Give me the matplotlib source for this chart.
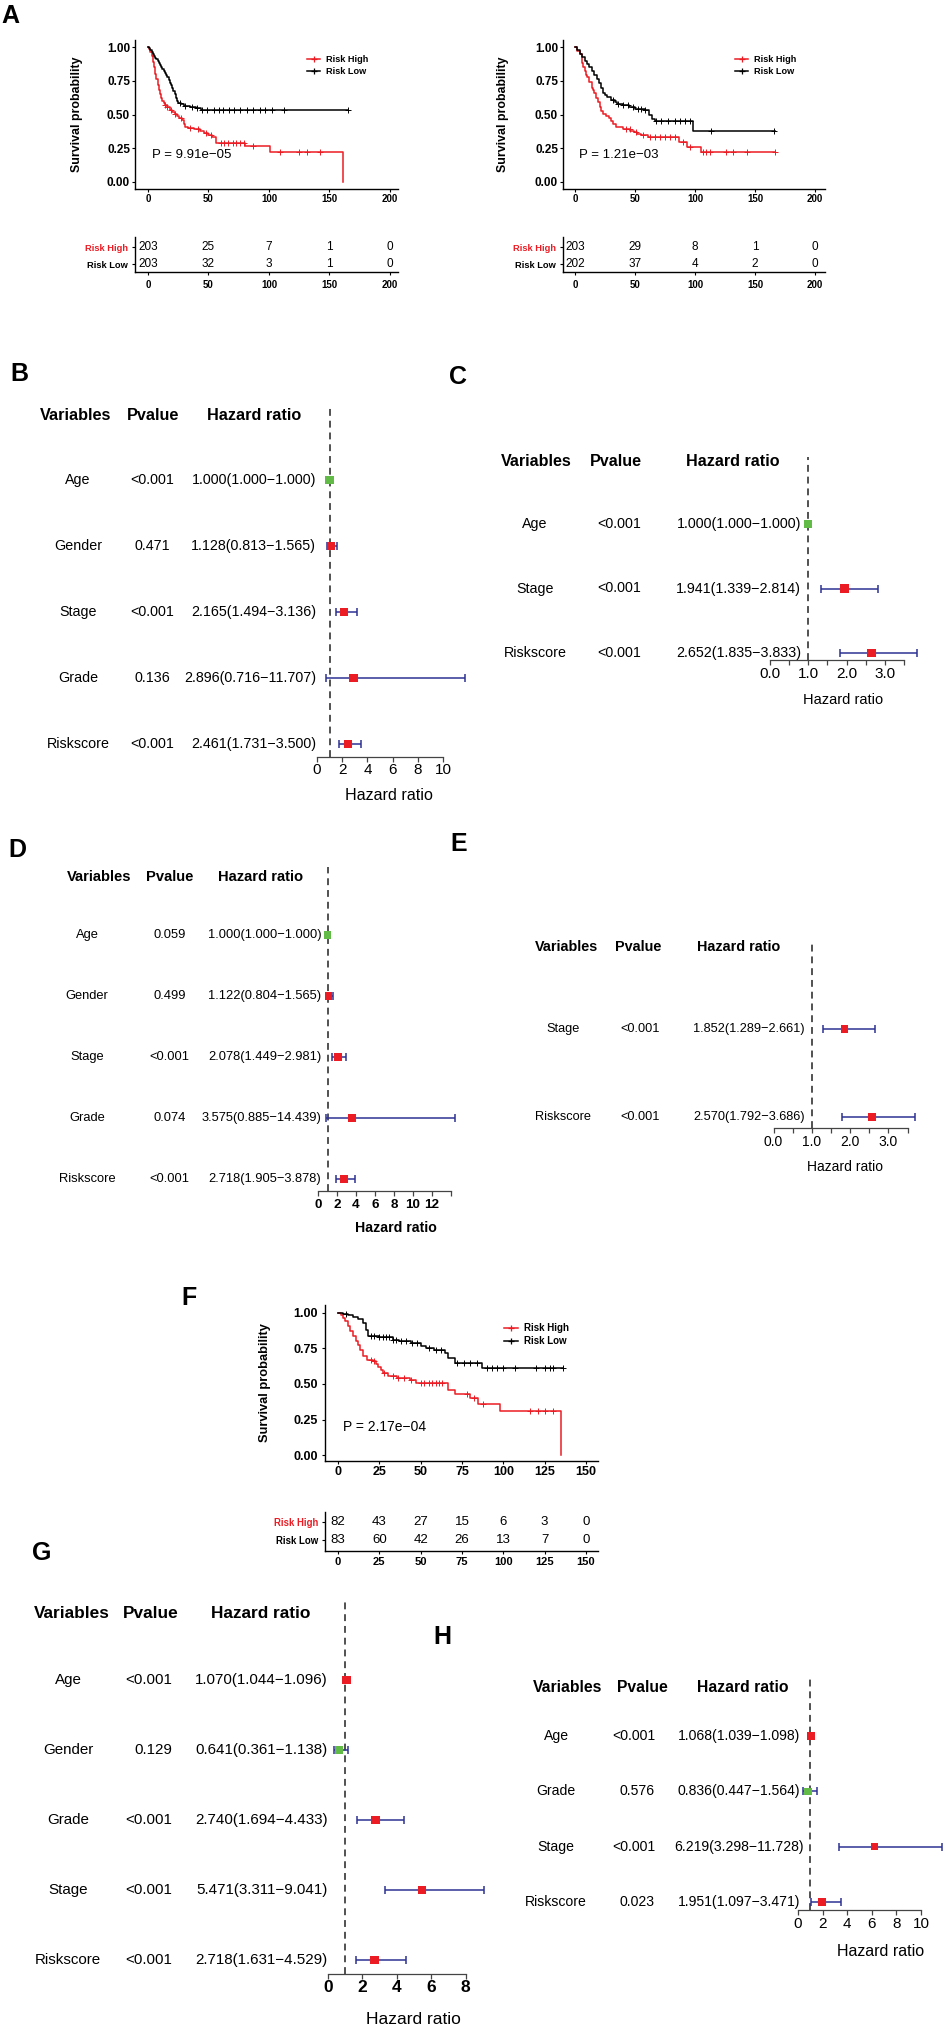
import numpy as np
import matplotlib
matplotlib.use("Agg")
import matplotlib.pyplot as plt
from matplotlib.lines import Line2D
import matplotlib.transforms as mtransforms

plt.rcParams['font.family'] = ['Liberation Sans', 'DejaVu Sans']

# ---------------- DATA ----------------
# Panel A (left) Kaplan-Meier
A1_high_t = [0, 1, 2, 3, 4, 5, 6, 7, 8, 9, 10, 11, 12, 13, 14, 16, 18, 20, 22, 24, 26, 28, 30, 31, 33, 38, 43, 46, 50, 53, 56, 80, 101, 161]
A1_high_s = [1.0, 0.985, 0.96, 0.93, 0.89, 0.85, 0.80, 0.76, 0.72, 0.685, 0.655, 0.625, 0.60, 0.585, 0.57, 0.555, 0.535, 0.52, 0.505, 0.49, 0.475, 0.46, 0.43, 0.41, 0.40, 0.39, 0.38, 0.36, 0.35, 0.33, 0.29, 0.267, 0.222, 0.0]
A1_high_c = [14, 16, 19, 22, 27, 35, 41, 48, 52, 60, 63, 66, 70, 73, 76, 79, 87, 109, 125, 131, 142]
A1_low_t = [0, 1, 2, 3, 4, 5, 6, 7, 8, 9, 10, 11, 12, 13, 14, 15, 16, 17, 18, 19, 20, 21, 22, 23, 24, 25, 27, 30, 35, 40, 44, 165]
A1_low_s = [1.0, 0.99, 0.975, 0.96, 0.95, 0.935, 0.92, 0.91, 0.895, 0.88, 0.865, 0.85, 0.835, 0.82, 0.81, 0.79, 0.775, 0.755, 0.735, 0.715, 0.695, 0.675, 0.655, 0.625, 0.60, 0.585, 0.575, 0.565, 0.555, 0.545, 0.535, 0.535]
A1_low_c = [26.7, 30.8, 36.3, 40.4, 44.6, 48.7, 54.2, 58.3, 62.4, 66.6, 70.7, 76.2, 81.7, 87.2, 92.7, 96.8, 102.3, 112, 165]
A1_pval = "P = 9.91e\u221205"
A1_tab_t = [0, 50, 100, 150, 200]
A1_tab_high = [203, 25, 7, 1, 0]
A1_tab_low = [203, 32, 3, 1, 0]

# Panel A (right)
A2_high_t = [0, 2, 4, 6, 7, 8, 9, 10, 12, 14, 15, 16, 17.8, 19, 20.6, 22, 23.5, 26, 28, 30, 32, 34.5, 40, 46, 49, 52, 55, 61, 87, 93, 105, 167]
A2_high_s = [1.0, 0.97, 0.945, 0.88, 0.85, 0.82, 0.79, 0.775, 0.74, 0.70, 0.68, 0.66, 0.62, 0.59, 0.555, 0.525, 0.506, 0.49, 0.475, 0.455, 0.432, 0.407, 0.395, 0.38, 0.37, 0.355, 0.346, 0.333, 0.296, 0.259, 0.222, 0.222]
A2_high_c = [42.8, 45.6, 51.2, 56.7, 62.3, 66.4, 70.6, 74.8, 79, 83.1, 90.1, 95.6, 106.8, 109.5, 112.3, 126.2, 131.8, 142.9, 166.5]
A2_low_t = [0, 2, 4, 6, 8, 10, 12, 14, 16, 18, 20, 22, 23.5, 25, 27, 30, 33, 35, 40, 45, 50, 58, 62, 64, 66.5, 98, 167]
A2_low_s = [1.0, 0.975, 0.95, 0.925, 0.90, 0.875, 0.85, 0.82, 0.79, 0.76, 0.73, 0.70, 0.66, 0.645, 0.63, 0.605, 0.59, 0.58, 0.568, 0.555, 0.543, 0.536, 0.494, 0.47, 0.452, 0.375, 0.375]
A2_low_c = [31.7, 35.9, 40, 44.2, 48.4, 52.5, 55.3, 58.1, 67.8, 72, 77.6, 83.1, 87.3, 91.4, 95.6, 112.9, 165.7]
A2_pval = "P = 1.21e\u221203"
A2_tab_t = [0, 50, 100, 150, 200]
A2_tab_high = [203, 29, 8, 1, 0]
A2_tab_low = [202, 37, 4, 2, 0]

# Panel F
F_high_t = [0, 1.5, 3.2, 4.5, 6.2, 7.5, 9.3, 11, 12.3, 13.5, 15.3, 17.3, 21.4, 23, 24.4, 26, 27.4, 30.4, 35.5, 43.6, 47, 66.7, 70.8, 79.9, 84.9, 98, 135]
F_high_s = [1.0, 0.985, 0.965, 0.94, 0.905, 0.87, 0.835, 0.80, 0.776, 0.74, 0.694, 0.67, 0.66, 0.64, 0.62, 0.60, 0.577, 0.553, 0.54, 0.525, 0.51, 0.458, 0.427, 0.40, 0.357, 0.31, 0.0]
F_high_c = [20, 22, 28, 33, 36, 40, 44, 50, 52, 55, 57, 59, 61, 63, 78, 82, 88, 116, 121, 125, 130]
F_low_t = [0, 3, 6, 9, 12, 15, 17, 18.3, 25, 33, 37, 44, 50, 53, 58, 64.7, 66.7, 70.8, 86.9, 136]
F_low_s = [1.0, 0.99, 0.985, 0.975, 0.955, 0.93, 0.88, 0.84, 0.83, 0.81, 0.80, 0.79, 0.77, 0.75, 0.74, 0.72, 0.68, 0.645, 0.61, 0.61]
F_low_c = [5, 20, 22, 25, 27, 29, 31, 33, 35, 38, 41, 45, 48, 55, 59, 62, 72, 76, 80, 84, 90, 93, 96, 100, 107, 120, 125, 128, 130, 136]
F_pval = "P = 2.17e\u221204"
F_tab_t = [0, 25, 50, 75, 100, 125, 150]
F_tab_high = [82, 43, 27, 15, 6, 3, 0]
F_tab_low = [83, 60, 42, 26, 13, 7, 0]

groups = ["Risk High", "Risk Low"]

# Forest plots
B_vars = ['Age', 'Gender', 'Stage', 'Grade', 'Riskscore']
B_p = ['<0.001', '0.471', '<0.001', '0.136', '<0.001']
B_hr = [1.000, 1.128, 2.165, 2.896, 2.461]
B_lo = [1.000, 0.813, 1.494, 0.716, 1.731]
B_hi = [1.000, 1.565, 3.136, 11.707, 3.500]

C_vars = ['Age', 'Stage', 'Riskscore']
C_p = ['<0.001', '<0.001', '<0.001']
C_hr = [1.000, 1.941, 2.652]
C_lo = [1.000, 1.339, 1.835]
C_hi = [1.000, 2.814, 3.833]

D_vars = ['Age', 'Gender', 'Stage', 'Grade', 'Riskscore']
D_p = ['0.059', '0.499', '<0.001', '0.074', '<0.001']
D_hr = [1.000, 1.122, 2.078, 3.575, 2.718]
D_lo = [1.000, 0.804, 1.449, 0.885, 1.905]
D_hi = [1.000, 1.565, 2.981, 14.439, 3.878]

E_vars = ['Stage', 'Riskscore']
E_p = ['<0.001', '<0.001']
E_hr = [1.852, 2.570]
E_lo = [1.289, 1.792]
E_hi = [2.661, 3.686]

G_vars = ['Age', 'Gender', 'Grade', 'Stage', 'Riskscore']
G_p = ['<0.001', '0.129', '<0.001', '<0.001', '<0.001']
G_hr = [1.070, 0.641, 2.740, 5.471, 2.718]
G_lo = [1.044, 0.361, 1.694, 3.311, 1.631]
G_hi = [1.096, 1.138, 4.433, 9.041, 4.529]

H_vars = ['Age', 'Grade', 'Stage', 'Riskscore']
H_p = ['<0.001', '0.576', '<0.001', '0.023']
H_hr = [1.068, 0.836, 6.219, 1.951]
H_lo = [1.039, 0.447, 3.298, 1.097]
H_hi = [1.098, 1.564, 11.728, 3.471]

headers = ['Variables', 'Pvalue', 'Hazard ratio']

# ---------------- STYLE / LAYOUT ----------------
W, H = 943, 2028
RED = '#EC1C24'
GREEN = '#62BB46'
NAVY = '#2E3192'

fig = plt.figure(figsize=(W / 100, H / 100), dpi=100)
canvas = fig.add_axes([0, 0, 1, 1])
canvas.set_xlim(0, W)
canvas.set_ylim(H, 0)
canvas.axis('off')


def pbox(l, t, r, b):
    ax = fig.add_axes([l / W, 1 - b / H, (r - l) / W, (b - t) / H])
    ax.set_facecolor('none')
    return ax


def ctext(x, y, s, **kw):
    canvas.text(x, y, s, **kw)


# panel letters
for lab, (x, y) in {'A': (10, 16), 'B': (19, 374), 'C': (458, 377), 'D': (17, 850),
                    'E': (459, 844), 'F': (189, 1298), 'G': (42, 1553), 'H': (442, 1637)}.items():
    ctext(x, y, lab, fontsize=18, fontweight='bold', ha='center', va='center')


def km_panel(box, tbox, xlim, ylim, xticks, xfs, yfs, curves, pval, ptxt_fs,
             leg_anchor, leg_fs, ylab_xy, ylab_fs, tab_t, tab_high, tab_low,
             tab_ylim, tab_fs, tab_tick_fs, tab_lab_fs, xpad, ypad, tpad):
    ax = pbox(*box)
    for (t, s, c, col) in curves:
        t = np.asarray(t, float)
        s = np.asarray(s, float)
        ax.step(t, s, where='post', color=col, lw=1.1)
        c = np.asarray(c, float)
        sc = s[np.searchsorted(t, c, side='right') - 1]
        ax.plot(c, sc, ls='none', marker='+', ms=4, mew=0.7, color=col)
    ax.set_xlim(*xlim)
    ax.set_ylim(*ylim)
    ax.set_xticks(xticks)
    ax.set_xticklabels([str(v) for v in xticks])
    yt = [0, 0.25, 0.5, 0.75, 1.0]
    ax.set_yticks(yt)
    ax.set_yticklabels([f'{v:.2f}' for v in yt])
    for sp in ['top', 'right']:
        ax.spines[sp].set_visible(False)
    for sp in ['left', 'bottom']:
        ax.spines[sp].set_linewidth(1.0)
    ax.tick_params(axis='x', length=2.5, width=0.8, pad=xpad, labelsize=xfs)
    ax.tick_params(axis='y', length=2.5, width=0.8, pad=ypad, labelsize=yfs)
    for lb in ax.get_xticklabels() + ax.get_yticklabels():
        lb.set_fontweight('bold')
    ax.text(3.2, 0.2, pval, fontsize=ptxt_fs, ha='left', va='center')
    handles = [Line2D([0], [0], color=col, lw=1.1, marker='+', ms=5, mew=0.9) for (_, _, _, col) in curves]
    ax.legend(handles, groups, loc='upper left', bbox_to_anchor=leg_anchor, frameon=False,
              prop={'weight': 'bold', 'size': leg_fs}, handlelength=1.45, handletextpad=0.6,
              labelspacing=0.35, borderpad=0, borderaxespad=0)
    ctext(ylab_xy[0], ylab_xy[1], 'Survival probability', rotation=90, fontsize=ylab_fs,
          fontweight='bold', ha='center', va='center')
    # risk table
    tx = pbox(*tbox)
    tx.set_xlim(*xlim)
    tx.set_ylim(*tab_ylim)
    for x, v in zip(tab_t, tab_high):
        tx.text(x, 1, str(v), ha='center', va='center', fontsize=tab_fs)
    for x, v in zip(tab_t, tab_low):
        tx.text(x, 0, str(v), ha='center', va='center', fontsize=tab_fs)
    tx.set_xticks(tab_t)
    tx.set_xticklabels([str(v) for v in tab_t])
    tx.set_yticks([1, 0])
    tx.set_yticklabels(groups)
    for sp in ['top', 'right']:
        tx.spines[sp].set_visible(False)
    for sp in ['left', 'bottom']:
        tx.spines[sp].set_linewidth(1.0)
    tx.tick_params(axis='x', length=2.5, width=0.8, pad=tpad, labelsize=tab_tick_fs)
    tx.tick_params(axis='y', length=2.5, width=0.8, pad=2.5, labelsize=tab_lab_fs)
    for lb in tx.get_xticklabels() + tx.get_yticklabels():
        lb.set_fontweight('bold')
    ylbs = tx.get_yticklabels()
    ylbs[0].set_color(RED)
    ylbs[1].set_color('black')


km_panel((135, 40, 398, 189), (135, 237, 398, 272), (-10.7, 206.6), (-0.052, 1.052),
         [0, 50, 100, 150, 200], 7, 8.5,
         [(A1_high_t, A1_high_s, A1_high_c, RED), (A1_low_t, A1_low_s, A1_low_c, 'black')],
         A1_pval, 9.5, (0.654, 0.90), 6.6, (77, 114.5), 8.9,
         A1_tab_t, A1_tab_high, A1_tab_low, (-0.47, 1.59), 8.5, 7, 6.7, 1.4, 1.1, 3.5)

km_panel((563, 40, 825, 189), (563, 237, 825, 272), (-10.0, 208.3), (-0.052, 1.052),
         [0, 50, 100, 150, 200], 7, 8.5,
         [(A2_high_t, A2_high_s, A2_high_c, RED), (A2_low_t, A2_low_s, A2_low_c, 'black')],
         A2_pval, 9.5, (0.656, 0.90), 6.6, (503, 114.5), 8.9,
         A2_tab_t, A2_tab_high, A2_tab_low, (-0.47, 1.59), 8.5, 7, 6.7, 1.4, 1.1, 3.5)

km_panel((325, 1305, 598, 1461), (325, 1512, 598, 1551), (-7.9, 157.3), (-0.042, 1.056),
         [0, 25, 50, 75, 100, 125, 150], 9, 9,
         [(F_high_t, F_high_s, F_high_c, RED), (F_low_t, F_low_s, F_low_c, 'black')],
         F_pval, 10, (0.656, 0.885), 7, (265, 1383), 9.3,
         F_tab_t, F_tab_high, F_tab_low, (-0.61, 1.56), 9.5, 8, 6.9, 1.1, 2.5, 1.5)


def forest(vars_, pv, hr, lo, hi, x0, k, ticks, ticklabels, spine_end, axis_y, top, rows,
           var_x, p_x, p_ha, hr_x, hr_ha, heads, head_y, fs_body, fs_head, fs_tick, tick_bold,
           tick_pad, xlab_xy, fs_xlab, xlab_bold, ms):
    n = len(vars_)
    xmax = max(hi)
    ax = pbox(x0, top, x0 + k * xmax, axis_y)
    ax.set_xlim(0, xmax)
    first, last = rows
    s = (last - first) / (n - 1) if n > 1 else 60
    ax.set_ylim((axis_y - first) / s, (top - first) / s)
    yy = np.arange(n)
    ax.axvline(1, color='#222222', lw=1.1, ls=(0, (4.5, 3.2)), zorder=1)
    ax.errorbar(hr, yy, xerr=[np.subtract(hr, lo), np.subtract(hi, hr)], fmt='none',
                ecolor=NAVY, elinewidth=1.1, capsize=3, capthick=1.1, zorder=2, clip_on=False)
    cols = [GREEN if h <= 1 else RED for h in hr]
    ax.scatter(hr, yy, marker='s', s=ms ** 2, c=cols, zorder=3, clip_on=False, linewidths=0)
    for sp in ['top', 'right', 'left']:
        ax.spines[sp].set_visible(False)
    ax.spines['bottom'].set_bounds(0, spine_end)
    ax.spines['bottom'].set_linewidth(0.9)
    ax.spines['bottom'].set_color('#444444')
    ax.set_yticks([])
    ax.set_xticks(ticks)
    ax.set_xticklabels(ticklabels)
    ax.tick_params(axis='x', length=3.5, width=0.9, color='#444444', pad=tick_pad, labelsize=fs_tick)
    if tick_bold:
        for lb in ax.get_xticklabels():
            lb.set_fontweight('bold')
    tr = mtransforms.blended_transform_factory(canvas.transData, ax.transData)
    for i in range(n):
        ax.text(var_x, i, vars_[i], transform=tr, ha='center', va='center', fontsize=fs_body)
        ax.text(p_x, i, pv[i], transform=tr, ha=p_ha, va='center', fontsize=fs_body)
        ax.text(hr_x, i, f'{hr[i]:.3f}({lo[i]:.3f}\u2212{hi[i]:.3f})', transform=tr,
                ha=hr_ha, va='center', fontsize=fs_body)
    for hx, lab in zip(heads, headers):
        ctext(hx, head_y, lab, ha='center', va='center', fontsize=fs_head, fontweight='bold')
    ctext(xlab_xy[0], xlab_xy[1], 'Hazard ratio', ha='center', va='center', fontsize=fs_xlab,
          fontweight='bold' if xlab_bold else 'normal')


half_ticks = [0, 0.5, 1, 1.5, 2, 2.5, 3, 3.5]
half_labels = ['0.0', '', '1.0', '', '2.0', '', '3.0', '']

forest(B_vars, B_p, B_hr, B_lo, B_hi, 317, 12.6, [0, 2, 4, 6, 8, 10], ['0', '2', '4', '6', '8', '10'], 10,
       757, 405, (480, 744), 78, 152, 'center', 316, 'right', [76, 153, 254.5], 416,
       10.3, 11.7, 11, False, 1, (389, 795), 11.6, False, 6)

forest(C_vars, C_p, C_hr, C_lo, C_hi, 770, 38.3, half_ticks, half_labels, 3.5,
       660, 457, (524, 653), 535, 619, 'center', 801, 'right', [536, 616, 733], 462,
       10.3, 11.6, 11, False, 1.5, (843, 700), 10.5, False, 6)

forest(D_vars, D_p, D_hr, D_lo, D_hi, 318, 9.5, [0, 2, 4, 6, 8, 10, 12, 14],
       ['0', '2', '4', '6', '8', '10', '12', ''], 14,
       1191, 867, (935, 1179), 87, 169.5, 'center', 321.5, 'right', [99, 170, 261], 877,
       9.3, 10.6, 9.7, True, 2, (396, 1228), 10.2, True, 5.5)

forest(E_vars, E_p, E_hr, E_lo, E_hi, 773.5, 38.3, half_ticks, half_labels, 3.5,
       1128, 942, (1029, 1117), 563, 640, 'center', 805, 'right', [567, 638, 739], 947,
       9.2, 10.4, 10, False, 1.5, (845, 1167), 10, False, 5.5)

forest(G_vars, G_p, G_hr, G_lo, G_hi, 328, 17.2, [0, 2, 4, 6, 8], ['0', '2', '4', '6', '8'], 8,
       1974, 1602, (1680, 1960), 68, 172, 'right', 328, 'right', [72, 151, 261], 1613,
       10.9, 12.4, 12.5, True, 1, (413, 2020), 12.5, False, 6.3)

forest(H_vars, H_p, H_hr, H_lo, H_hi, 798, 12.3, [0, 2, 4, 6, 8, 10], ['0', '2', '4', '6', '8', '10'], 10,
       1910, 1676, (1736, 1902), 556, 655, 'right', 739, 'center', [568, 642, 743], 1688,
       10.1, 11.3, 11, False, 1.5, (881, 1951), 11.5, False, 5.5)

fig.savefig('out.png', dpi=100)
